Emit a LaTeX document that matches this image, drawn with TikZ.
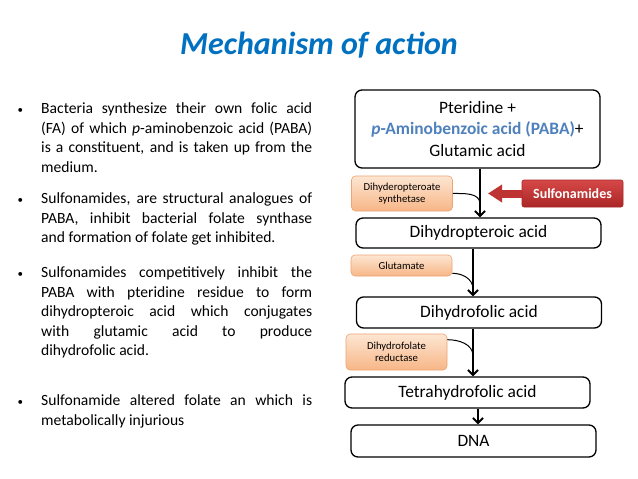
\documentclass[tikz,border=0pt]{standalone}
\usepackage{fontspec}
\setmainfont{Carlito}
\usetikzlibrary{arrows.meta,positioning}
\definecolor{titleblue}{RGB}{0,112,192}
\definecolor{pabablue}{RGB}{79,129,189}
\definecolor{enzlight}{RGB}{253,230,210}
\definecolor{enzdark}{RGB}{247,182,135}
\definecolor{enzline}{RGB}{236,165,115}
\definecolor{sulfalight}{RGB}{214,72,72}
\definecolor{sulfadark}{RGB}{170,38,38}
\definecolor{sulfaarrow}{RGB}{190,52,52}
\newcommand{\bul}{\llap{{\fontsize{11}{11}\selectfont•}\hspace{18pt}}}

\begin{document}
\begin{tikzpicture}[x=1pt,y=1pt,
  stepbox/.style={draw,line width=1.3pt,rounded corners=7pt,align=center,
    font=\fontsize{17.4}{21.5}\selectfont,inner sep=0pt,minimum width=245pt},
  enzbox/.style={draw=enzline,line width=0.6pt,rounded corners=4pt,
    top color=enzlight,bottom color=enzdark,align=center,
    font=\fontsize{10.7}{11.7}\selectfont,inner sep=0pt,minimum width=101pt},
  bullettext/.style={anchor=north west,inner sep=0pt,text width=271pt,
    align=justify,font=\fontsize{15.6}{19.5}\selectfont},
  flow/.style={line width=2pt,-{Straight Barb[length=5pt,width=10pt]}},
  hook/.style={line width=1pt}
]
\fill[white] (0,0) rectangle (638,-479);
\useasboundingbox (0,0) rectangle (638,-479);

% Title
\node[font=\fontsize{32}{36}\selectfont\bfseries\itshape,text=titleblue] (title) at (319,-45) {Mechanism of action};

% Bullets
\node[bullettext] (b1) at (41,-102.5) {\bul Bacteria synthesize their own folic acid\linebreak
  (FA) of which \textit{p}-aminobenzoic acid (PABA)\linebreak
  is a constituent, and is taken up from the\linebreak medium.};
\node[bullettext] (b2) at (41,-192.5) {\bul Sulfonamides, are structural analogues of\linebreak
  PABA, inhibit bacterial folate synthase\linebreak
  and formation of folate get inhibited.};
\node[bullettext] (b3) at (41,-266.5) {\bul Sulfonamides competitively inhibit the\linebreak
  PABA with pteridine residue to form\linebreak
  dihydropteroic acid which conjugates\linebreak
  with glutamic acid to produce\linebreak dihydrofolic acid.};
\node[bullettext] (b4) at (41,-394.5) {\bul Sulfonamide altered folate an which is\linebreak
  metabolically injurious};

% Pathway
\node[stepbox,minimum height=78pt] (pter) at (477.5,-129) {Pteridine +\\
  \textcolor{pabablue}{\textbf{\textit{p}-Aminobenzoic acid (PABA)}}+\\ Glutamic acid};
\node[stepbox,minimum height=30pt] (dhp) at (478.5,-233) {Dihydropteroic acid};
\node[stepbox,minimum height=31pt] (dhf) at (479,-312.5) {Dihydrofolic acid};
\node[stepbox,minimum height=31pt] (thf) at (467.5,-392.5) {Tetrahydrofolic acid};
\node[stepbox,minimum height=32pt] (dna) at (473.5,-441) {DNA};

% Enzymes
\node[enzbox,minimum height=35pt] (dhps) at (402,-193.5) {Dihyderopteroate\\ synthetase};
\node[enzbox,minimum height=21pt] (glu) at (401.5,-265.5) {Glutamate};
\node[enzbox,minimum height=36pt] (dhfr) at (396.5,-352) {Dihydrofolate\\ reductase};

% Inhibitor
\node[draw=sulfadark,line width=0.6pt,rounded corners=2pt,top color=sulfalight,bottom color=sulfadark,
  text=white,font=\fontsize{14}{16}\selectfont\bfseries,minimum width=101pt,minimum height=27pt,inner sep=0pt]
  (sulfa) at (572.5,-193.5) {Sulfonamides};
\coordinate (block) at (488,-193.5);
\draw[sulfaarrow,line width=8pt,-{Triangle[length=14pt,width=17pt]}] (sulfa.west) -- (block);

% Main flow
\coordinate (c1) at (480,0);
\coordinate (c2) at (473,0);
\coordinate (c3) at (478,0);
\draw[flow] (pter.south -| c1) -- (dhp.north -| c1);
\draw[flow] (dhp.south -| c2) -- (dhf.north -| c2);
\draw[flow] (dhf.south -| c2) -- (thf.north -| c2);
\draw[flow] (thf.south -| c3) -- (dna.north -| c3);

% Enzyme hooks
\coordinate (h1) at (480,-204);
\coordinate (h2) at (473,-289);
\coordinate (h3) at (473,-356);
\draw[hook] (dhps.east) to[out=0,in=90] (h1);
\draw[hook] ([yshift=3pt]glu.south east) to[out=0,in=90] (h2);
\draw[hook] ([yshift=-6pt]dhfr.north east) to[out=0,in=90] (h3);
\end{tikzpicture}
\end{document}
